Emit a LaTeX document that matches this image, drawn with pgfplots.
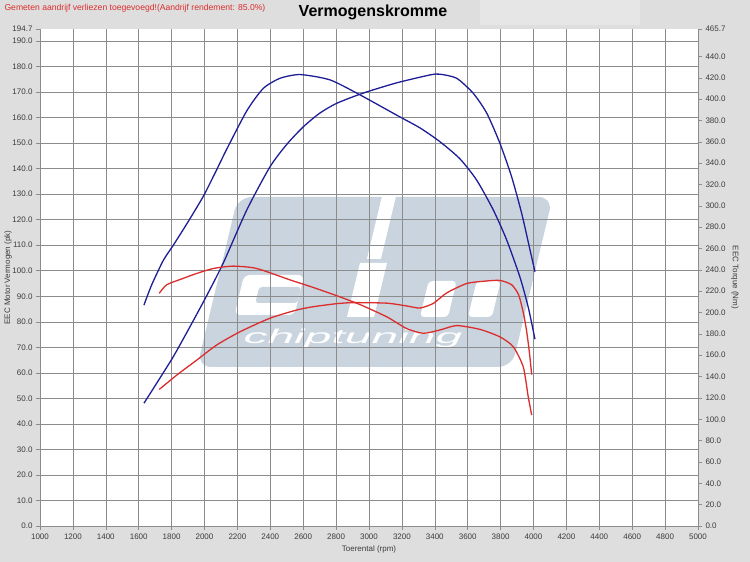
\documentclass[border=0pt]{standalone}
\usepackage{fontspec}
\setmainfont{Liberation Sans}
\usepackage{pgfplots}
\pgfplotsset{compat=1.18}

\definecolor{bgc}{RGB}{222,222,222}
\definecolor{wm}{RGB}{201,212,222}
\definecolor{tuned}{RGB}{30,30,150}
\definecolor{stock}{RGB}{220,45,45}
\definecolor{gridc}{RGB}{140,140,140}
\definecolor{txt}{RGB}{60,60,60}

\pgfplotsset{
  dyno/.style={
    at={(40pt,36pt)}, anchor=south west,
    scale only axis, width=658pt, height=497pt,
    xmin=1000, xmax=5000,
    axis line style={draw=none},
    tick style={gridc, line width=0.5pt},
    major tick length=4pt,
    tick align=outside,
    /pgf/number format/assume math mode=true,
    ticklabel style={font=\fontsize{8}{9}\selectfont, text=txt},
    label style={font=\fontsize{8}{9}\selectfont, text=txt},
  }
}

\begin{document}
\begin{tikzpicture}[x=1pt,y=1pt]
\fill[bgc] (0,0) rectangle (750,562);
\useasboundingbox (0,0) rectangle (750,562);
\fill[white!25!bgc] (480,537) rectangle (640,562);
\fill[white] (40,36) rectangle (698,533);

% watermark logo
\begin{scope}[shift={(0,195)}, xslant=0.24]
  \fill[wm, rounded corners=14] (197,0) rectangle (512,170);
  \fill[white] (341,108) rectangle (355,171);
  \fill[white, rounded corners=6] (222,52) rectangle (282,92);
  \fill[wm, rounded corners=3] (240,64) rectangle (282,80);
  \fill[white] (335,50) rectangle (362,104);
  \fill[white, rounded corners=4] (408,50) rectangle (436,86);
  \fill[white, rounded corners=4] (456,50) rectangle (480,86);
  \node[white, font=\itshape\fontsize{20}{20}\selectfont, xscale=2.4] at (346,29) {chiptuning};
\end{scope}

\node[anchor=west, text=stock, font=\fontsize{8.6}{9}\selectfont] at (1,554) {Gemeten aandrijf verliezen toegevoegd!(Aandrijf rendement: 85.0\%)};
\node[font=\bfseries\fontsize{16}{17}\selectfont] at (373,550) {Vermogenskromme};

% power axis
\begin{axis}[dyno,
  ymin=0, ymax=194.7,
  xtick={1000,1200,...,5000},
  ytick={0,10,...,190},
  extra y ticks={194.7},
  extra y tick style={grid=none},
  xtick pos=bottom, ytick pos=left,
  grid=major, grid style={gridc, line width=0.5pt},
  xticklabel style={/pgf/number format/.cd, fixed, 1000 sep={}},
  yticklabel style={/pgf/number format/.cd, fixed, fixed zerofill, precision=1},
  xlabel={Toerental (rpm)},
  ylabel={EEC Motor Vermogen (pk)},
  ylabel style={at={(axis description cs:-0.0486,0.5)}, anchor=center},
]
% tuned power
\addplot[tuned, line width=1.3pt, smooth, tension=0.4] coordinates {
(1632,48.1) (1709,55.9) (1810,66.3) (1912,78.1) (2013,90.2) (2114,103) (2257,123.8)
(2398,140.7) (2500,149.5) (2601,156.4) (2700,161.7) (2804,165.6) (2965,169.6) (3168,173.6)
(3371,176.7) (3430,177.0) (3533,175.4) (3634,169.5) (3716,161.7) (3796,149.9) (3867,136.8)
(3928,122.5) (3979,108.1) (4009,99.6)
};
% stock power
\addplot[stock, line width=1.3pt, smooth, tension=0.4] coordinates {
(1725,53.5) (1831,59.1) (1953,65.0) (2074,70.9) (2216,76.1) (2398,81.4) (2560,84.6)
(2661,85.9) (2804,87.1) (2905,87.5) (3108,87.3) (3229,86.2) (3310,85.4) (3391,87.2)
(3472,91.3) (3594,95.0) (3700,95.9) (3796,96.2) (3867,94.5) (3910,90.5) (3940,83)
(3959,76) (3975,68) (3989,59.3)
};
\end{axis}

% torque axis
\begin{axis}[dyno,
  ymin=0, ymax=465.7,
  hide x axis,
  axis y line*=right,
  ytick={0,20,...,440},
  extra y ticks={465.7},
  yticklabel style={/pgf/number format/.cd, fixed, fixed zerofill, precision=1},
  ylabel={EEC Torque (Nm)},
  ylabel style={at={(axis description cs:1.0562,0.5)}, anchor=center, rotate=180},
]
% tuned torque
\addplot[tuned, line width=1.3pt, smooth, tension=0.4] coordinates {
(1632,207) (1679,226) (1750,249) (1810,263) (1900,285) (1993,309) (2065,331) (2135,353)
(2257,389) (2357,410) (2459,419.5) (2581,423) (2763,418) (2945,404) (3168,385) (3310,373)
(3432,360) (3553,344) (3655,324) (3756,296) (3837,268) (3918,233) (3968,205) (4009,175)
};
% stock torque
\addplot[stock, line width=1.3pt, smooth, tension=0.4] coordinates {
(1725,218) (1770,226) (1870,232) (1950,236.5) (2054,241.3) (2175,243.5) (2317,241.3)
(2520,230.6) (2661,223.5) (2800,216) (2945,207.5) (3108,196) (3229,185) (3330,180.6)
(3432,183.7) (3533,187.8) (3675,184.2) (3796,177.2) (3877,168) (3938,149) (3968,121)
(3989,104)
};
\end{axis}
\end{tikzpicture}
\end{document}
